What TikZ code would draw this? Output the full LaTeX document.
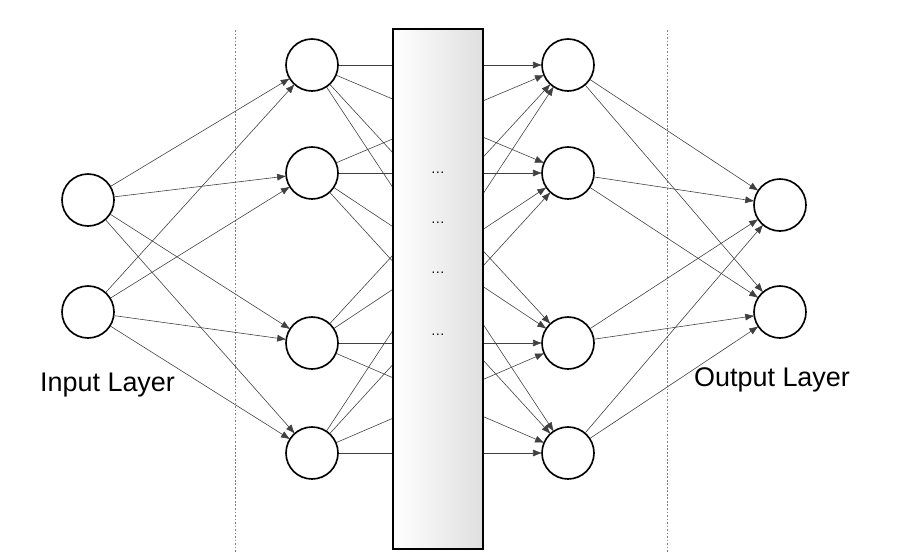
\documentclass[tikz,border=0pt]{standalone}
\usepackage{fontspec}
\setmainfont{Liberation Sans}
\usetikzlibrary{positioning,arrows.meta}
\begin{document}
\begin{tikzpicture}[x=0.03cm,y=-0.03cm]
  \tikzset{
    neuron/.style={draw, line width=1.4pt, circle, minimum size=1.56cm, inner sep=0pt, fill=white},
    link/.style={draw, black!75, line width=0.5pt},
    arrowlink/.style={link, -{Latex[length=8pt,width=6pt]}, shorten >=-1pt},
    divider/.style={draw, gray, dash pattern=on 1.5pt off 1.5pt}
  }
  \useasboundingbox (0,0) rectangle (910,554);

  \node[neuron] (in1) at (88,200) {};
  \node[neuron] (in2) at (88,312) {};
  \foreach \y [count=\i] in {65,173,343,453} {
    \node[neuron] (ha\i) at (312,\y) {};
    \node[neuron] (hb\i) at (568,\y) {};
  }
  \node[neuron] (out1) at (780,205) {};
  \node[neuron] (out2) at (780,312) {};

  \coordinate (d1top) at (235,30);
  \coordinate (d1bot) at (235,552);
  \coordinate (d2top) at (667,30);
  \coordinate (d2bot) at (667,552);
  \draw[divider] (d1top) -- (d1bot);
  \draw[divider] (d2top) -- (d2bot);

  % connections
  \foreach \i in {1,2}
    \foreach \j in {1,...,4}
      \draw[arrowlink] (in\i) -- (ha\j);
  \foreach \i in {1,...,4}
    \foreach \j in {1,...,4}
      \draw[arrowlink] (ha\i) -- (hb\j);
  \foreach \i in {1,...,4}
    \foreach \j in {1,2}
      \draw[arrowlink] (hb\i) -- (out\j);

  % hidden block
  \node[draw, line width=1.4pt, minimum width=2.7cm, minimum height=15.6cm, inner sep=0pt,
        left color=white, right color=gray!25] (block) at (438,289) {};
  \foreach \y [count=\k] in {173,223,273,335}
    \node[font=\large] (dots\k) at (438,\y) {\dots};

  \node[font=\fontsize{23}{27}\selectfont, anchor=west] (inlabel) at (36,385) {Input Layer};
  \node[font=\fontsize{23}{27}\selectfont, anchor=west] (outlabel) at (690,380) {Output Layer};
\end{tikzpicture}
\end{document}
